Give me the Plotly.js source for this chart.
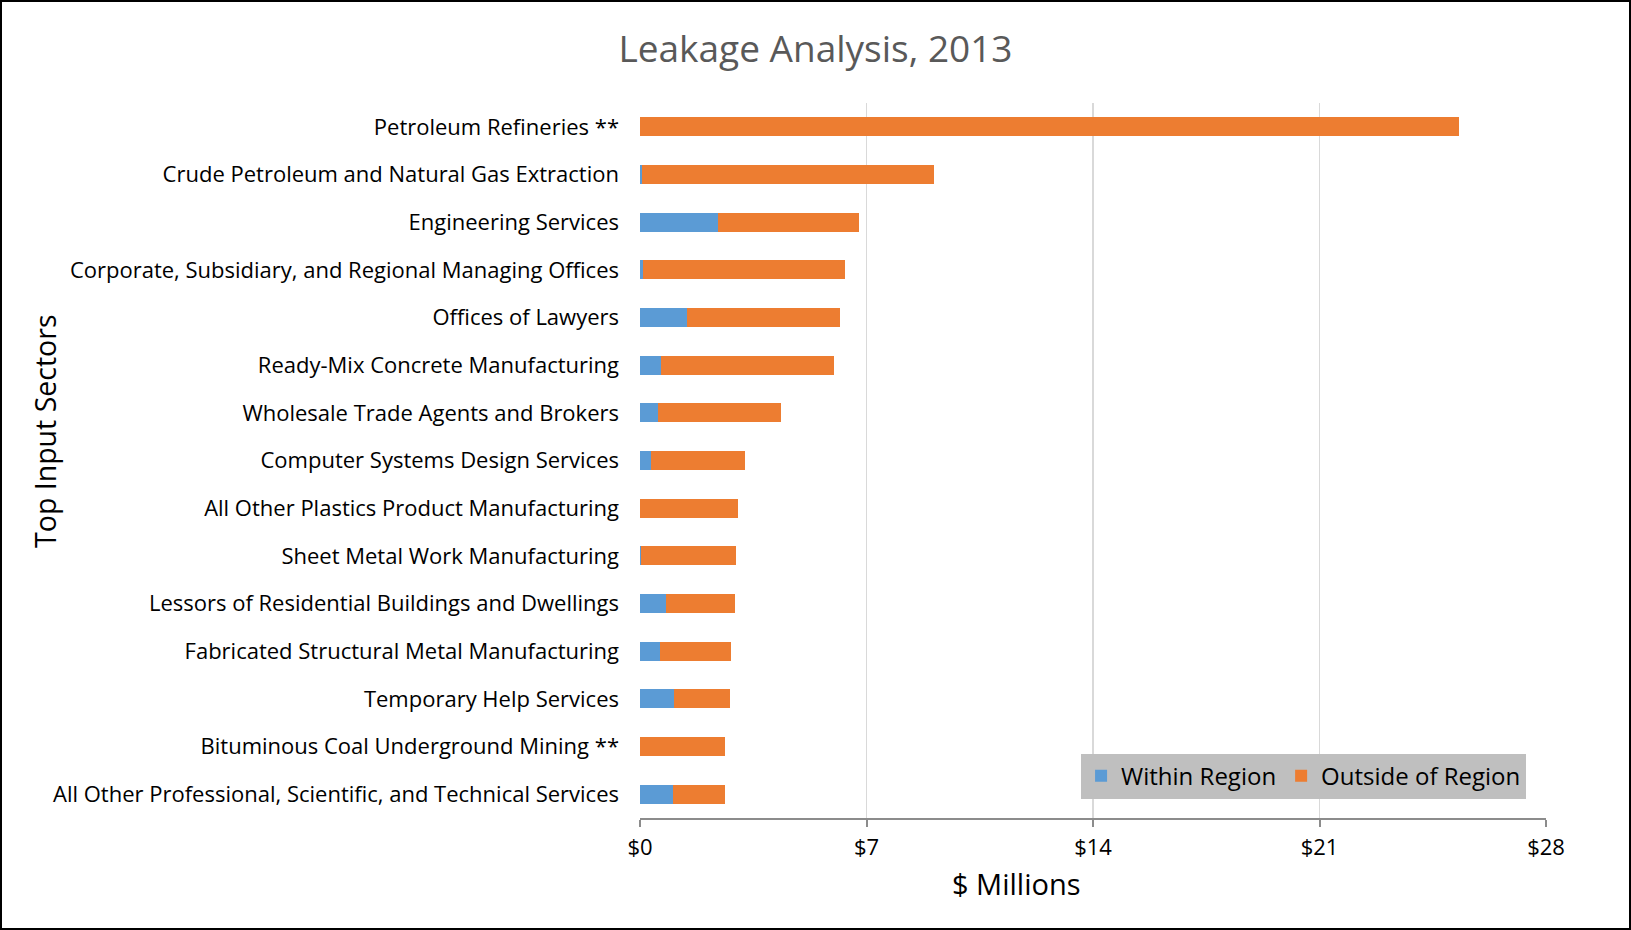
<!DOCTYPE html>
<html>
<head>
<meta charset="utf-8">
<script src="https://cdn.plot.ly/plotly-3.0.1.min.js"></script>
<style>
html,body{margin:0;padding:0;background:#fff;}
#chart{width:1631px;height:930px;}
#frame{position:absolute;left:0;top:0;width:1631px;height:930px;border:2px solid #000;box-sizing:border-box;pointer-events:none;}
</style>
</head>
<body>
<div id="chart"></div>
<div id="frame"></div>
<script>
var sectors = [
  "Petroleum Refineries **",
  "Crude Petroleum and Natural Gas Extraction",
  "Engineering Services",
  "Corporate, Subsidiary, and Regional Managing Offices",
  "Offices of Lawyers",
  "Ready-Mix Concrete Manufacturing",
  "Wholesale Trade Agents and Brokers",
  "Computer Systems Design Services",
  "All Other Plastics Product Manufacturing",
  "Sheet Metal Work Manufacturing",
  "Lessors of Residential Buildings and Dwellings",
  "Fabricated Structural Metal Manufacturing",
  "Temporary Help Services",
  "Bituminous Coal Underground Mining **",
  "All Other Professional, Scientific, and Technical Services"
];
var withinRegion = [0, 0.06, 2.41, 0.10, 1.44, 0.66, 0.57, 0.35, 0, 0.02, 0.80, 0.62, 1.04, 0, 1.03];
var outsideRegion = [25.3, 9.04, 4.35, 6.25, 4.74, 5.32, 3.79, 2.91, 3.04, 2.95, 2.14, 2.19, 1.73, 2.63, 1.59];
var tickValues = [0, 7, 14, 21, 28];
var tickLabels = ["$0", "$7", "$14", "$21", "$28"];

var labelFont = "'Open Sans', 'Liberation Sans', sans-serif";

var traces = [
  {type: "bar", orientation: "h", name: "Within Region", y: sectors, x: withinRegion,
   marker: {color: "#5b9bd5"}},
  {type: "bar", orientation: "h", name: "Outside of Region", y: sectors, x: outsideRegion,
   marker: {color: "#ed7d31"}}
];

var layout = {
  width: 1631, height: 930,
  margin: {l: 640, r: 85, t: 103, b: 112},
  paper_bgcolor: "#fff", plot_bgcolor: "#fff",
  barmode: "stack",
  bargap: 0.6,
  showlegend: true,
  title: {text: "Leakage Analysis, 2013", font: {family: "'Open Sans', sans-serif", size: 37, color: "#595959"},
          x: 0.5, xref: "container", xanchor: "center", y: 0.947, yref: "container", yanchor: "middle"},
  xaxis: {
    range: [0, 28], tickvals: tickValues, ticktext: tickLabels,
    showgrid: true, gridcolor: "#d9d9d9", gridwidth: 1.5,
    zeroline: false, showline: true, linecolor: "#8c8c8c", linewidth: 2,
    ticks: "outside", ticklen: 7, tickcolor: "#8c8c8c", tickwidth: 2,
    ticklabelstandoff: 2,
    tickfont: {family: labelFont, size: 22, color: "#000"},
    fixedrange: true
  },
  yaxis: {
    autorange: "reversed", showgrid: false, zeroline: false, showline: false,
    ticks: "", ticklabelstandoff: 20,
    tickfont: {family: labelFont, size: 22, color: "#000"},
    fixedrange: true
  },
  legend: {
    orientation: "h", traceorder: "normal",
    x: 0.978, xanchor: "right", xref: "paper",
    y: 0.027, yanchor: "bottom", yref: "paper",
    bgcolor: "#bfbfbf", borderwidth: 0,
    font: {family: labelFont, size: 24, color: "#000"},
    itemwidth: 30
  },
  annotations: [
    {text: "$ Millions", xref: "paper", yref: "paper", x: 0.416, y: -0.091,
     xanchor: "center", yanchor: "middle", showarrow: false,
     font: {family: labelFont, size: 29, color: "#000"}},
    {text: "Top Input Sectors", xref: "paper", yref: "paper", x: -0.657, y: 0.541,
     xanchor: "center", yanchor: "middle", showarrow: false, textangle: -90,
     font: {family: labelFont, size: 28.5, color: "#000"}}
  ]
};

Plotly.newPlot("chart", traces, layout, {displayModeBar: false, staticPlot: true});
</script>
</body>
</html>
